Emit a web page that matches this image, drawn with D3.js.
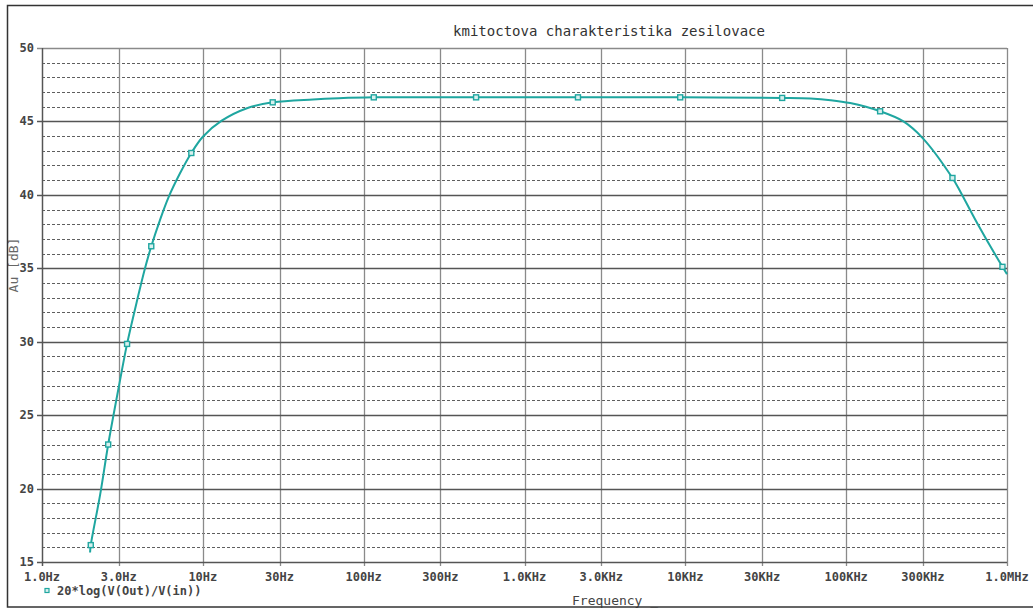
<!DOCTYPE html>
<html>
<head>
<meta charset="utf-8">
<script src="https://cdn.jsdelivr.net/npm/d3@7"></script>
<style>
  body { margin: 0; background: #fff; }
  svg { display: block; }
  text { font-family: "DejaVu Sans Mono", monospace; }
</style>
</head>
<body>
<div id="chart"></div>
<script>
const title = 'kmitoctova charakteristika zesilovace';
const yLabel = 'Au [dB]';
const xLabel = 'Frequency';
const legendLabel = '20*log(V(Out)/V(in))';

// frequency [Hz] and gain [dB]
const freq = [1.99, 2.01, 2.3, 2.58, 3.0, 3.38, 3.9, 4.37, 4.78, 5.4, 6.1, 7.2, 8.48, 10, 13.1,
  18.8, 27.2, 48.4, 70, 115.6, 500, 2150, 9290, 40000, 60000, 80000, 105900, 162600, 227000,
  300000, 458000, 514000, 653000, 937000, 1000000];
const gain = [15.65, 16.15, 19.6, 23.0, 26.9, 29.85, 32.8, 35.0, 36.5, 38.25, 39.8, 41.45, 42.85, 43.96, 45.05,
  45.9, 46.3, 46.5, 46.58, 46.64, 46.64, 46.64, 46.64, 46.6, 46.56, 46.45, 46.25, 45.69, 45.0,
  43.85, 41.15, 40.2, 38.07, 35.1, 34.6];

// where the marker squares sit
const markerFreq = [2.01, 2.58, 3.38, 4.78, 8.48, 27.2, 115.6, 500, 2150, 9290, 40000, 162600, 458000, 937000];
const markerGain = [16.15, 23.0, 29.85, 36.5, 42.85, 46.3, 46.64, 46.64, 46.64, 46.64, 46.6, 45.69, 41.15, 35.1];

const xTicks = [1, 3, 10, 30, 100, 300, 1e3, 3e3, 1e4, 3e4, 1e5, 3e5, 1e6];
const xTickLabels = ['1.0Hz', '3.0Hz', '10Hz', '30Hz', '100Hz', '300Hz', '1.0KHz', '3.0KHz',
  '10KHz', '30KHz', '100KHz', '300KHz', '1.0MHz'];
const yTicks = [15, 20, 25, 30, 35, 40, 45, 50];

const width = 1033, height = 610;
const color = '#1fa6a0';

const svg = d3.select('#chart').append('svg')
  .attr('width', width)
  .attr('height', height);

const x = d3.scaleLog().domain([1, 1e6]).range([42, 1007]);
const y = d3.scaleLinear().domain([15, 50]).range([562, 48]);

// minor dashed lines every 1 dB
const minor = d3.range(16, 50).filter(v => v % 5 !== 0);
svg.append('g').selectAll('line')
  .data(minor)
  .enter().append('line')
  .attr('x1', x(1)).attr('x2', x(1e6))
  .attr('y1', d => Math.round(y(d)) + 0.5).attr('y2', d => Math.round(y(d)) + 0.5)
  .attr('stroke', '#5e5e5e')
  .attr('stroke-width', 1)
  .attr('stroke-dasharray', '3,2');

// vertical grid
svg.append('g').selectAll('line')
  .data(xTicks)
  .enter().append('line')
  .attr('x1', d => Math.round(x(d)) + 0.5).attr('x2', d => Math.round(x(d)) + 0.5)
  .attr('y1', y(50)).attr('y2', y(15) + 4)
  .attr('stroke', '#8a8a8a')
  .attr('stroke-width', 1.3);

// major horizontal lines
svg.append('g').selectAll('line')
  .data(yTicks)
  .enter().append('line')
  .attr('x1', x(1) - 5).attr('x2', x(1e6))
  .attr('y1', d => Math.round(y(d)) + 0.5).attr('y2', d => Math.round(y(d)) + 0.5)
  .attr('stroke', d => d === 50 ? '#8a8a8a' : '#555')
  .attr('stroke-width', 1.3);

// left axis
svg.append('line')
  .attr('x1', Math.round(x(1)) + 0.5).attr('x2', Math.round(x(1)) + 0.5)
  .attr('y1', y(50)).attr('y2', y(15) + 4)
  .attr('stroke', '#555').attr('stroke-width', 1.3);

// tick labels
svg.append('g').selectAll('text')
  .data(yTicks)
  .enter().append('text')
  .attr('x', 34)
  .attr('y', d => y(d) + 4)
  .attr('text-anchor', 'end')
  .attr('font-size', 12)
  .attr('font-weight', 'bold')
  .attr('fill', '#444')
  .text(d => d);

svg.append('g').selectAll('text')
  .data(xTicks)
  .enter().append('text')
  .attr('x', d => x(d))
  .attr('y', 581)
  .attr('text-anchor', 'middle')
  .attr('font-size', 12)
  .attr('font-weight', 'bold')
  .attr('fill', '#444')
  .text((d, i) => xTickLabels[i]);

// trace
const line = d3.line()
  .x((d, i) => x(freq[i]))
  .y(d => y(d))
  .curve(d3.curveCatmullRom.alpha(0.5));

svg.append('path')
  .datum(gain)
  .attr('d', line)
  .attr('fill', 'none')
  .attr('stroke', color)
  .attr('stroke-width', 2);

svg.append('g').selectAll('rect')
  .data(markerGain)
  .enter().append('rect')
  .attr('x', (d, i) => x(markerFreq[i]) - 2.5)
  .attr('y', d => y(d) - 2.5)
  .attr('width', 5).attr('height', 5)
  .attr('fill', '#d8f0ee')
  .attr('stroke', color)
  .attr('stroke-width', 1.4);

// title and axis labels
svg.append('text')
  .attr('x', 609).attr('y', 36)
  .attr('text-anchor', 'middle')
  .attr('font-size', 14)
  .attr('fill', '#333')
  .text(title);

svg.append('text')
  .attr('transform', 'translate(18,265) rotate(-90)')
  .attr('text-anchor', 'middle')
  .attr('font-size', 13)
  .attr('fill', '#666')
  .text(yLabel);

svg.append('text')
  .attr('x', 572).attr('y', 605)
  .attr('font-size', 13)
  .attr('fill', '#444')
  .text(xLabel + ' _');

// legend
svg.append('rect')
  .attr('x', 45).attr('y', 588.5)
  .attr('width', 4).attr('height', 4)
  .attr('fill', '#d8f0ee')
  .attr('stroke', color)
  .attr('stroke-width', 1.2);

svg.append('text')
  .attr('x', 57).attr('y', 595)
  .attr('font-size', 12)
  .attr('font-weight', 'bold')
  .attr('fill', '#444')
  .text(legendLabel);

// outer frame
svg.append('rect')
  .attr('x', 7.5).attr('y', 5.5)
  .attr('width', 1040).attr('height', 601.5)
  .attr('fill', 'none')
  .attr('stroke', '#333')
  .attr('stroke-width', 1.5);
</script>
</body>
</html>
